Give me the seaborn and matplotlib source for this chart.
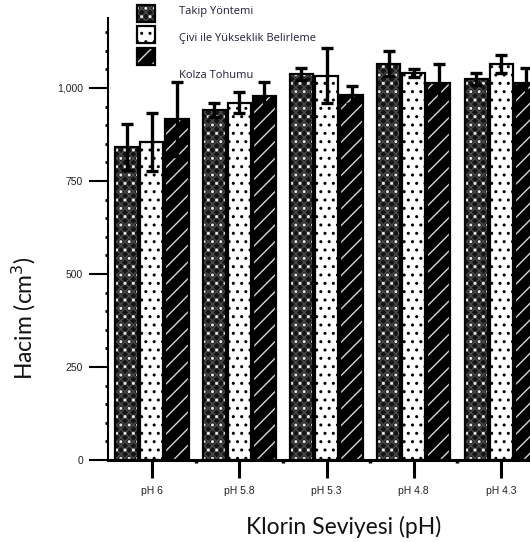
import numpy as np
import pandas as pd
import matplotlib
matplotlib.use("Agg")
import matplotlib.pyplot as plt
from matplotlib.patches import Rectangle
from matplotlib.ticker import FixedLocator, MultipleLocator, FuncFormatter
import seaborn as sns

# pH levels on the x axis and the three measuring methods
ph_levels = ["pH 6", "pH 5.8", "pH 5.3", "pH 4.8", "pH 4.3"]
methods = ["Takip Yöntemi", "Çivi ile Yükseklik Belirleme", "Kolza Tohumu"]

# mean volume (cm³) per pH level for each method
takip = [841, 941, 1038, 1065, 1024]
civi = [855, 960, 1033, 1040, 1065]
kolza = [917, 978, 981, 1013, 1013]

# error bar half-lengths
takip_err = [62, 19, 16, 34, 16]
civi_err = [78, 28, 74, 11, 24]
kolza_err = [99, 38, 24, 52, 41]

y_major = [0, 250, 500, 750, 1000]

plt.rcParams["hatch.linewidth"] = 1.0
plt.rcParams["font.family"] = ["Liberation Sans", "DejaVu Sans"]

df = pd.DataFrame({
    "ph": ph_levels * 3,
    "method": [methods[0]] * 5 + [methods[1]] * 5 + [methods[2]] * 5,
    "volume": takip + civi + kolza,
})
errors = [takip_err, civi_err, kolza_err]
means = [takip, civi, kolza]

fig = plt.figure(figsize=(5.30, 5.42), dpi=100)
ax = fig.add_axes([108 / 530, 82 / 542, 422 / 530, 442 / 542])

sns.barplot(data=df, x="ph", y="volume", hue="method", order=ph_levels,
            hue_order=methods, errorbar=None, width=0.86, gap=0.08,
            palette=["#151515", "white", "black"], ax=ax, legend=False,
            saturation=1)

# fill pattern per method: face colour, base hatch, its colour,
# and an optional second hatch layer drawn on top
styles = [("#151515", "xxxx", "#4a4a4a", ("..", "#e8e8e8")),
          ("white", "..", "black", None),
          ("black", "//", "#d8d8d8", None)]

bar_containers = list(ax.containers)
handles = []
for i, cont in enumerate(bar_containers):
    face, hatch, hcol, extra = styles[i]
    first = []
    for p in cont.patches:
        p.set_facecolor(face)
        p.set_hatch(hatch)
        p.set_edgecolor(hcol)
        p.set_linewidth(0)
        layers = [p]
        z = p.get_zorder()
        if extra is not None:
            dots = Rectangle(p.get_xy(), p.get_width(), p.get_height(),
                             fill=False, hatch=extra[0], edgecolor=extra[1],
                             linewidth=0, zorder=z + 0.05)
            ax.add_patch(dots)
            layers.append(dots)
        outline = Rectangle(p.get_xy(), p.get_width(), p.get_height(),
                            fill=False, edgecolor="black", linewidth=1.6,
                            zorder=z + 0.1)
        ax.add_patch(outline)
        layers.append(outline)
        if not first:
            first = layers
    xs = [p.get_x() + p.get_width() / 2 for p in cont.patches]
    ax.errorbar(xs, means[i], yerr=errors[i], fmt="none", ecolor="black",
                elinewidth=2.4, capsize=4, capthick=2.4, zorder=5)
    handles.append(tuple(first))

ax.set_xlim(-0.504, 4.332)
ax.set_ylim(0, 1188)

for side in ["top", "right"]:
    ax.spines[side].set_visible(False)
ax.spines["left"].set_linewidth(1.5)
ax.spines["bottom"].set_linewidth(2.2)

ax.yaxis.set_major_locator(FixedLocator(y_major))
ax.yaxis.set_minor_locator(MultipleLocator(50))
ax.yaxis.set_major_formatter(FuncFormatter(lambda v, _: f"{int(v):,}"))
ax.xaxis.set_minor_locator(FixedLocator([0.5, 1.5, 2.5, 3.5]))

ax.tick_params(axis="y", which="major", length=14, width=1.5, pad=4,
               labelsize=7.5, labelcolor="#222222")
ax.tick_params(axis="y", which="minor", length=2.5, width=2)
ax.tick_params(axis="x", which="major", length=13, width=2.2, pad=5.5,
               labelsize=7.5, labelcolor="#222222")
ax.tick_params(axis="x", which="minor", length=2.5, width=2.5)

ax.set_xlabel("Klorin Seviyesi (pH)", fontsize=16.5,
              family=["Lato", "DejaVu Sans"], color="#111111")
ax.xaxis.set_label_coords(0.559, -0.127)
ax.set_ylabel("Hacim (cm$^3$)", fontsize=16.5,
              family=["Lato", "DejaVu Sans"], color="#111111")
ax.yaxis.set_label_coords(-0.166, 0.322)

leg = fig.legend(handles, methods, loc="upper left",
                 bbox_to_anchor=(137 / 530, 1 - 5 / 542),
                 frameon=False, fontsize=8, handlelength=1.62,
                 handleheight=1.98, labelspacing=0.4, handletextpad=2.2,
                 borderpad=0, borderaxespad=0)
for t in leg.get_texts():
    t.set_color("#1e1e3a")
    t.set_family(["Open Sans", "DejaVu Sans"])
leg.get_texts()[0].set_y(3)
leg.get_texts()[1].set_y(-2)
leg.get_texts()[2].set_y(-18)

fig.savefig("out.png", dpi=100)
